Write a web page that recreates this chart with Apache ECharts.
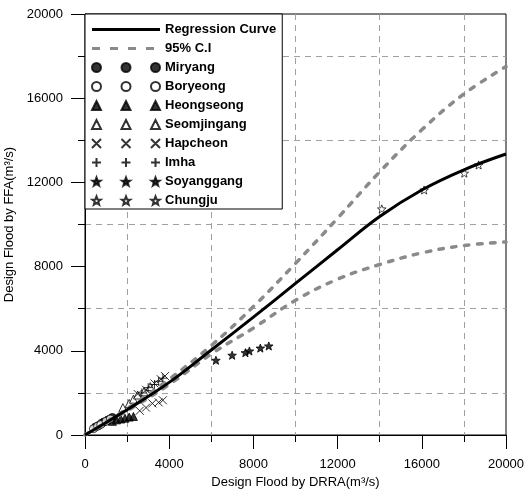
<!DOCTYPE html>
<html>
<head>
<meta charset="utf-8">
<script src="https://cdn.jsdelivr.net/npm/echarts@6/dist/echarts.min.js"></script>
<style>
  html, body { margin: 0; padding: 0; background: #fff; }
  #main { width: 526px; height: 489px; }
</style>
</head>
<body>
<div id="main"></div>
<script>
// curve sampled every 2000 m3/s on DRRA axis
var curveX = [0, 2000, 4000, 6000, 8000, 10000, 12000, 14000, 16000, 18000, 20000];
var regression = [0, 1200, 2500, 4040, 5600, 7200, 8800, 10380, 11640, 12600, 13350];
var upperCI = [0, 1250, 2650, 4250, 6100, 8150, 10300, 12500, 14500, 16200, 17500];
var lowerCI = [0, 1150, 2400, 3850, 5080, 6400, 7400, 8100, 8650, 9000, 9170];

// [DRRA, FFA] per dam
var miryang = [[500, 380], [650, 450], [800, 560], [900, 620], [1100, 720], [1300, 830]];
var boryeong = [[400, 300], [600, 420], [750, 500], [1000, 650], [1200, 760]];
var heongseong = [[1300, 650], [1500, 720], [1700, 760], [1900, 800], [2100, 850], [2300, 880]];
var seomjingang = [[1800, 1300], [2100, 1500], [2300, 1700], [2500, 1900], [2800, 2050], [3100, 2300]];
var hapcheon = [[2600, 1150], [2900, 1300], [3200, 1500], [3500, 1550], [3700, 1650],
                [2500, 1950], [2900, 2150], [3300, 2450], [3600, 2650], [3800, 2800]];
var imha = [[2700, 2000], [3000, 2250], [3300, 2400], [3500, 2550], [3700, 2700]];
var soyanggang = [[6220, 3550], [6990, 3790], [7620, 3910], [7810, 3990], [8330, 4130], [8730, 4230]];
var chungju = [[14100, 10740], [16110, 11640], [18020, 12440], [18700, 12830]];

var FONT = "'Liberation Sans', Arial, sans-serif";

function pair(xs, ys) {
    return xs.map(function (x, i) { return [x, ys[i]]; });
}

// shape helpers (geometry only)
function circ(cx, cy, r) {
    return 'M' + (cx - r) + ' ' + cy + 'A' + r + ' ' + r + ' 0 1 0 ' + (cx + r) + ' ' + cy +
        'A' + r + ' ' + r + ' 0 1 0 ' + (cx - r) + ' ' + cy + 'Z';
}
function tri(cx, cy, r) {
    return 'M' + (cx - r) + ' ' + (cy + r) + 'L' + cx + ' ' + (cy - r) + 'L' + (cx + r) + ' ' + (cy + r) + 'Z';
}
function cross(cx, cy, r) {
    return 'M' + (cx - r) + ' ' + (cy - r) + 'L' + (cx + r) + ' ' + (cy + r) +
        'M' + (cx + r) + ' ' + (cy - r) + 'L' + (cx - r) + ' ' + (cy + r);
}
function plus(cx, cy, r) {
    return 'M' + cx + ' ' + (cy - r) + 'L' + cx + ' ' + (cy + r) + 'M' + (cx - r) + ' ' + cy + 'L' + (cx + r) + ' ' + cy;
}
function star(cx, cy, r) {
    var s = '';
    cy = cy + r * 0.1;
    for (var i = 0; i < 10; i++) {
        var rad = i % 2 ? r * 0.42 : r;
        var a = -Math.PI / 2 + i * Math.PI / 5;
        s += (i ? 'L' : 'M') + (cx + rad * Math.cos(a)).toFixed(2) + ' ' + (cy + rad * Math.sin(a)).toFixed(2);
    }
    return s + 'Z';
}
function triple(fn) {
    return 'path://' + fn(4.5, 4.5, 4.5) + fn(34, 4.5, 4.5) + fn(63.5, 4.5, 4.5) + 'M0 0M68 9';
}
function single(fn) {
    return 'path://' + fn(5, 5, 5) + 'M0 0M10 10';
}
function dashes() {
    var s = '';
    for (var x = 0; x < 68; x += 18) {
        s += 'M' + x + ' 3L' + (x + 8) + ' 3L' + (x + 8) + ' 6L' + x + ' 6Z';
    }
    return 'path://' + s + 'M0 0M68 9';
}

var solid = { color: '#000', borderColor: '#000', borderWidth: 1 };
var hollow = { color: '#fff', borderColor: '#000', borderWidth: 1 };

var sites = [
    { name: 'Miryang', data: miryang, shape: circ, style: solid, size: 8 },
    { name: 'Boryeong', data: boryeong, shape: circ, style: hollow, size: 8 },
    { name: 'Heongseong', data: heongseong, shape: tri, style: solid, size: 8 },
    { name: 'Seomjingang', data: seomjingang, shape: tri, style: hollow, size: 8 },
    { name: 'Hapcheon', data: hapcheon, shape: cross, style: solid, size: 8 },
    { name: 'Imha', data: imha, shape: plus, style: solid, size: 9 },
    { name: 'Soyanggang', data: soyanggang, shape: star, style: solid, size: 9 },
    { name: 'Chungju', data: chungju, shape: star, style: { color: '#fff', borderColor: '#000', borderWidth: 0.9 }, size: 9 }
];

var series = [];
sites.forEach(function (s) {
    series.push({
        name: s.name,
        type: 'scatter',
        symbol: single(s.shape),
        symbolSize: s.size,
        itemStyle: s.style,
        data: s.data,
        z: 2
    });
});

var ciLine = { color: '#8a8a8a', width: 3.5, type: [4.5, 8.5], cap: 'round' };
series.push({
    name: 'Regression Curve', type: 'line', smooth: 0.4, symbol: 'none',
    lineStyle: { color: '#000', width: 3 }, itemStyle: { color: '#000', borderWidth: 0 },
    data: pair(curveX, regression), z: 4
});
series.push({
    name: '95% C.I', type: 'line', smooth: 0.4, symbol: 'none',
    lineStyle: ciLine, itemStyle: { color: '#8a8a8a', borderWidth: 0 },
    data: pair(curveX, upperCI), z: 3
});
series.push({
    name: '95% C.I', type: 'line', smooth: 0.4, symbol: 'none',
    lineStyle: ciLine, itemStyle: { color: '#8a8a8a', borderWidth: 0 },
    data: pair(curveX, lowerCI), z: 3
});

var legendData = [
    { name: 'Regression Curve', icon: 'path://M0 3L68 3L68 6L0 6ZM0 0M68 9' },
    { name: '95% C.I', icon: dashes() }
];
sites.forEach(function (s) {
    legendData.push({ name: s.name, icon: triple(s.shape) });
});

function valueAxis(name, gap, labelMargin) {
    return {
        type: 'value',
        min: 0,
        max: 20000,
        interval: 4000,
        name: name,
        nameLocation: 'middle',
        nameGap: gap,
        nameTextStyle: { color: '#000', fontSize: 13, fontFamily: FONT },
        axisLine: { show: true, lineStyle: { color: '#000', width: 1 } },
        axisTick: { show: true, length: 14, lineStyle: { color: '#000' } },
        minorTick: { show: true, splitNumber: 2, length: 7, lineStyle: { color: '#000' } },
        axisLabel: {
            color: '#000', fontSize: 13, fontFamily: FONT, margin: labelMargin,
            formatter: function (v) { return String(v); }
        },
        splitLine: { show: false },
        minorSplitLine: { show: true, lineStyle: { color: '#a0a0a0', width: 1, type: [6, 5] } }
    };
}

var chart = echarts.init(document.getElementById('main'));
var option = {
    animation: false,
    backgroundColor: '#fff',
    grid: {
        left: 85, right: 20, top: 14, bottom: 54,
        outerBoundsMode: 'none',
        containLabel: false,
        show: true, borderColor: '#000', borderWidth: 1
    },
    legend: {
        orient: 'vertical',
        left: 85,
        top: 14,
        padding: [9, 6, 2, 6],
        itemWidth: 68,
        itemHeight: 9,
        itemGap: 6,
        backgroundColor: '#fff',
        borderColor: '#000',
        borderWidth: 1,
        selectedMode: false,
        textStyle: { color: '#000', fontSize: 13, fontWeight: 'bold', fontFamily: FONT, lineHeight: 13 },
        data: legendData
    },
    xAxis: valueAxis('Design Flood by DRRA(m³/s)', 35, 23),
    yAxis: valueAxis('Design Flood by FFA(m³/s)', 66, 22),
    series: series
};
chart.setOption(option);
</script>
</body>
</html>
